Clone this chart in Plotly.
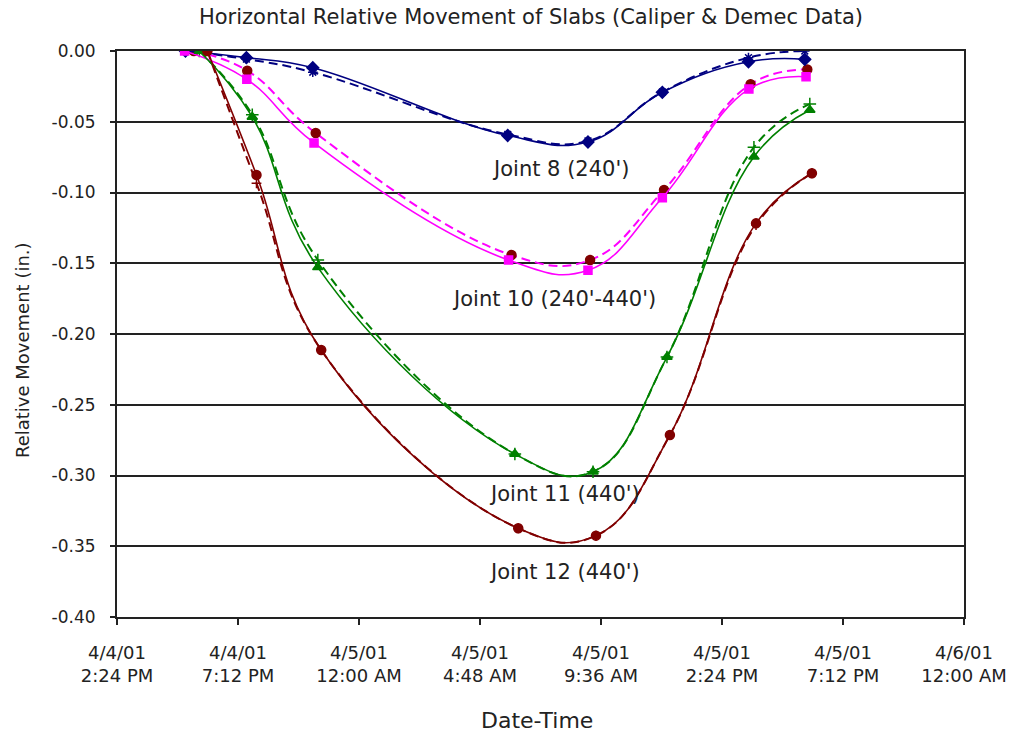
import plotly.graph_objects as go

# ---- data ----
j8_cal_t = ["2001-04-04 17:07", "2001-04-04 19:32", "2001-04-04 22:10", "2001-04-05 05:54",
            "2001-04-05 09:05", "2001-04-05 12:02", "2001-04-05 15:27", "2001-04-05 17:41"]
j8_cal = [0.0, -0.0047, -0.0118, -0.0597, -0.0643, -0.0292, -0.0076, -0.0059]
j8_dem_t = j8_cal_t
j8_dem = [0.0, -0.0057, -0.0150, -0.0590, -0.0636, -0.0290, -0.0047, 0.0]

j10_cal_t = ["2001-04-04 17:05", "2001-04-04 19:33", "2001-04-04 22:13", "2001-04-05 05:56",
             "2001-04-05 09:05", "2001-04-05 12:02", "2001-04-05 15:28", "2001-04-05 17:44"]
j10_cal = [0.0, -0.0200, -0.0650, -0.1477, -0.1550, -0.1037, -0.0269, -0.0182]
j10_dem_t = ["2001-04-04 17:27", "2001-04-04 19:34", "2001-04-04 22:17", "2001-04-05 06:03",
             "2001-04-05 09:10", "2001-04-05 12:06", "2001-04-05 15:32", "2001-04-05 17:47"]
j10_dem = [0.0, -0.0139, -0.0580, -0.1442, -0.1477, -0.0982, -0.0235, -0.0130]

j11_t = ["2001-04-04 17:40", "2001-04-04 19:46", "2001-04-04 22:22", "2001-04-05 06:11",
         "2001-04-05 09:17", "2001-04-05 12:13", "2001-04-05 15:40", "2001-04-05 17:53"]
j11_cal = [0.0, -0.0466, -0.1529, -0.2848, -0.2973, -0.2163, -0.0747, -0.0417]
j11_dem = [0.0, -0.0450, -0.1477, -0.2848, -0.2973, -0.2163, -0.0680, -0.0375]

j12_t = ["2001-04-04 17:59", "2001-04-04 19:56", "2001-04-04 22:30", "2001-04-05 06:19",
         "2001-04-05 09:24", "2001-04-05 12:20", "2001-04-05 15:45", "2001-04-05 17:58"]
j12_cal = [0.0, -0.0876, -0.2113, -0.3373, -0.3425, -0.2714, -0.1218, -0.0864]
j12_dem = [0.0, -0.0935, -0.2113, -0.3373, -0.3425, -0.2714, -0.1230, -0.0864]

x_tickvals = ["2001-04-04 14:24", "2001-04-04 19:12", "2001-04-05 00:00", "2001-04-05 04:48",
              "2001-04-05 09:36", "2001-04-05 14:24", "2001-04-05 19:12", "2001-04-06 00:00"]
x_ticktext = ["4/4/01<br>2:24 PM", "4/4/01<br>7:12 PM", "4/5/01<br>12:00 AM", "4/5/01<br>4:48 AM",
              "4/5/01<br>9:36 AM", "4/5/01<br>2:24 PM", "4/5/01<br>7:12 PM", "4/6/01<br>12:00 AM"]
y_tickvals = [0.0, -0.05, -0.10, -0.15, -0.20, -0.25, -0.30, -0.35, -0.40]
y_ticktext = ["0.00", "-0.05", "-0.10", "-0.15", "-0.20", "-0.25", "-0.30", "-0.35", "-0.40"]

labels = ["Joint 8 (240')", "Joint 10 (240'-440')", "Joint 11 (440')", "Joint 12 (440')"]
label_x = ["2001-04-05 08:00", "2001-04-05 07:44", "2001-04-05 08:10", "2001-04-05 08:09"]
label_y = [-0.0834, -0.1753, -0.3131, -0.3682]

NAVY = "#000080"
MAG = "#FF00FF"
GREEN = "#008000"
DRED = "#800000"
FONT = "DejaVu Sans"
TXT = "#222222"
SMOOTH = 1.2
DASH = "9px,5px"

fig = go.Figure()

def add(t, v, color, dash, msym, mcolor, msize, mline=None):
    fig.add_trace(go.Scatter(
        x=t, y=v, mode="lines+markers",
        line=dict(color=color, width=1.6 if dash == "solid" else 2, dash=dash,
                  shape="spline", smoothing=SMOOTH),
        marker=dict(symbol=msym, color=mcolor, size=msize,
                    line=dict(color=mline or mcolor, width=1.5)),
        showlegend=False, hoverinfo="skip"))

# Demec (dashed) series
add(j8_dem_t, j8_dem, NAVY, DASH, "asterisk-open", NAVY, 8)
add(j11_t, j11_dem, GREEN, DASH, "cross-thin-open", GREEN, 9)
add(j12_t, j12_dem, DRED, DASH, "cross-thin-open", DRED, 7)
add(j10_dem_t, j10_dem, MAG, DASH, "circle", DRED, 9)
# Caliper (solid) series
add(j8_cal_t, j8_cal, NAVY, "solid", "diamond", NAVY, 9)
add(j10_cal_t, j10_cal, MAG, "solid", "square", MAG, 8)
add(j11_t, j11_cal, GREEN, "solid", "triangle-up", GREEN, 9)
add(j12_t, j12_cal, DRED, "solid", "circle", DRED, 9)

for txt, lx, ly in zip(labels, label_x, label_y):
    fig.add_annotation(x=lx, y=ly, xref="x", yref="y", text=txt, showarrow=False,
                       font=dict(family=FONT, size=21, color=TXT),
                       xanchor="center", yanchor="middle")

# axis titles (pixel-positioned in paper space: plot spans x 117..964, y 51..617)
fig.add_annotation(x=(537 - 117) / 847, y=(617 - 720) / 566, xref="paper", yref="paper",
                   text="Date-Time", showarrow=False,
                   font=dict(family=FONT, size=22, color=TXT),
                   xanchor="center", yanchor="middle")
fig.add_annotation(x=(22 - 117) / 847, y=(617 - 350) / 566, xref="paper", yref="paper",
                   text="Relative Movement (in.)", showarrow=False, textangle=-90,
                   font=dict(family=FONT, size=18, color=TXT),
                   xanchor="center", yanchor="middle")

fig.update_layout(
    width=1010, height=735,
    margin=dict(l=117, r=46, t=51, b=118, autoexpand=False),
    paper_bgcolor="white", plot_bgcolor="white",
    title=dict(text="Horizontal Relative Movement of Slabs (Caliper & Demec Data)",
               x=531 / 1010, xref="container", xanchor="center",
               y=1 - 17 / 735, yref="container", yanchor="middle",
               font=dict(family=FONT, size=21, color=TXT)),
    font=dict(family=FONT, color=TXT),
)

fig.update_xaxes(
    type="date", range=["2001-04-04 14:24", "2001-04-06 00:00"],
    tickmode="array", tickvals=x_tickvals, ticktext=x_ticktext,
    ticks="outside", ticklen=6, tickwidth=1.5, tickcolor="#222",
    tickfont=dict(family=FONT, size=18, color=TXT), ticklabelstandoff=12,
    showline=True, linecolor="#222", linewidth=2, mirror=True,
    showgrid=False, zeroline=False, automargin=False,
)
fig.update_yaxes(
    range=[-0.40, 0.0], tickmode="array", tickvals=y_tickvals, ticktext=y_ticktext,
    ticks="outside", ticklen=5, tickwidth=1.5, tickcolor="#222",
    tickfont=dict(family=FONT, size=17, color=TXT), ticklabelstandoff=11,
    showline=True, linecolor="#222", linewidth=2, mirror=True,
    showgrid=True, gridcolor="#222", gridwidth=2, zeroline=False, automargin=False,
)

fig.write_html("out.html")
